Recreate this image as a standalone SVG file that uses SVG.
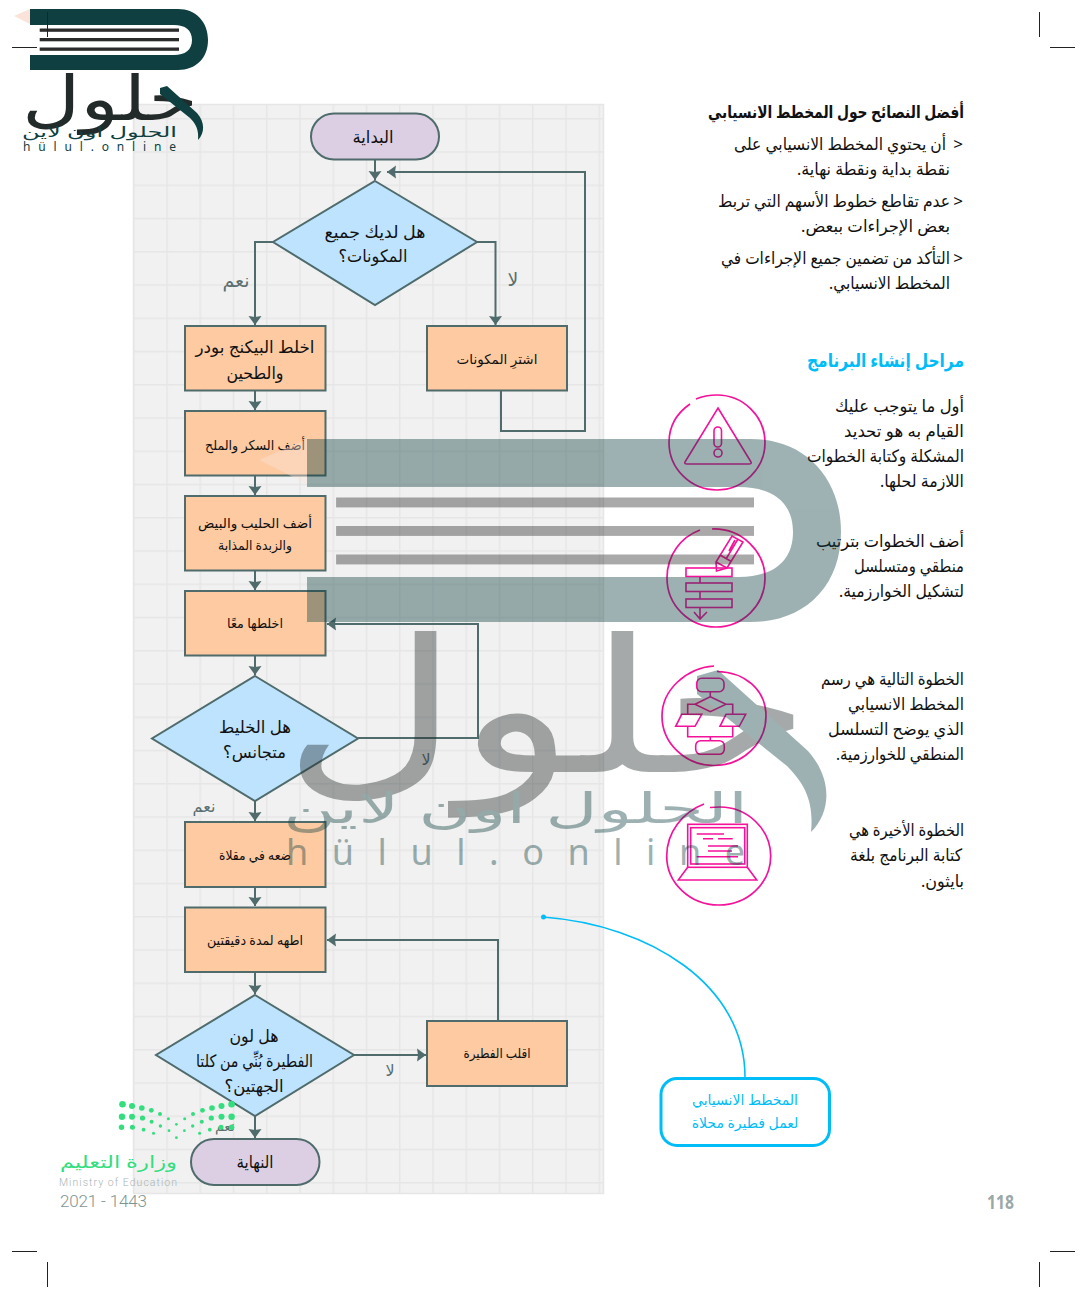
<svg xmlns="http://www.w3.org/2000/svg" width="1087" height="1299" viewBox="0 0 1087 1299">
<style>
text{font-family:"Noto Sans","DejaVu Sans",sans-serif;fill:#111}
.r{direction:rtl;text-anchor:start}
.c{direction:rtl;text-anchor:middle}
.body{font-size:17px}
.head{font-size:17px;font-weight:700}
.blue{fill:#00bdf7}
.lbl{font-size:19px;fill:#5a6f6f}
.box{fill:#fdcaa2;stroke:#4f6b6b;stroke-width:2}
.pill{fill:#dccfe3;stroke:#4f6b6b;stroke-width:2}
.dia{fill:#bde3ff;stroke:#4f6b6b;stroke-width:2}
.conn{fill:none;stroke:#4f6b6b;stroke-width:2}
.pk{fill:none;stroke:#f5129a;stroke-width:1.7}
.pk2{fill:none;stroke:#f5129a;stroke-width:1.6}
.crop{stroke:#222;stroke-width:1;fill:none}
.t17{font-size:17px}.t16{font-size:16px}.t14{font-size:14px}.t13{font-size:13.500px}
.dk{fill:#0f3f40}.ln{fill:#2b2b2b}.let{fill:#232b2a}
.gd{fill:#33de7e}
</style>
<defs>
<pattern id="grid" width="33.25" height="33.25" patternUnits="userSpaceOnUse" patternTransform="translate(133 118)">
<path d="M0 0H33.25M0 0V33.25" stroke="#e6e6e6" stroke-width="3" fill="none"/>
</pattern>
<marker id="ah" markerUnits="userSpaceOnUse" markerWidth="14" markerHeight="14" refX="9" refY="7" orient="auto"><path d="M0 .5L9 7L0 13.5L1 7Z" fill="#4f6b6b"/></marker>
</defs>
<rect id="panel" x="133.500" y="104.500" width="470" height="1089" fill="#f1f1f1"/>
<rect x="133.500" y="104.500" width="470" height="1089" fill="url(#grid)" stroke="#e6e6e6" stroke-width="1.500"/>

<g id="connectors">
<path class="conn" marker-end="url(#ah)" d="M375 160V180"/>
<path class="conn" marker-end="url(#ah)" d="M273 242H255V325"/>
<path class="conn" marker-end="url(#ah)" d="M477 242H495.500V325"/>
<path class="conn" marker-end="url(#ah)" d="M501 391V431H585V172H387"/>
<path class="conn" marker-end="url(#ah)" d="M255 391V410"/>
<path class="conn" marker-end="url(#ah)" d="M255 476V495"/>
<path class="conn" marker-end="url(#ah)" d="M255 571V590"/>
<path class="conn" marker-end="url(#ah)" d="M255 656V675"/>
<path class="conn" marker-end="url(#ah)" d="M358 738H478V624H327"/>
<path class="conn" marker-end="url(#ah)" d="M255 801V821"/>
<path class="conn" marker-end="url(#ah)" d="M255 887V906"/>
<path class="conn" marker-end="url(#ah)" d="M255 972V994"/>
<path class="conn" marker-end="url(#ah)" d="M354 1055H426"/>
<path class="conn" marker-end="url(#ah)" d="M498 1021V940H327"/>
<path class="conn" marker-end="url(#ah)" d="M255 1116V1138"/>
<path fill="none" stroke="#00bdf7" stroke-width="1.600" d="M543 917C650 925 745 985 745 1077"/>
<circle cx="543.500" cy="917" r="2.500" fill="#00bdf7"/>
</g>

<g id="n-start"><rect class="pill" x="311" y="113.500" width="128" height="46" rx="23"/><text class="c t17" x="373" y="143" textLength="41" lengthAdjust="spacingAndGlyphs">البداية</text></g>
<g id="n-d1"><path class="dia" d="M375 181L477 242L375 305L273 242Z"/><text class="c t17" x="375" y="238" textLength="101" lengthAdjust="spacingAndGlyphs">هل لديك جميع</text><text class="c t17" x="373" y="262" textLength="69" lengthAdjust="spacingAndGlyphs">المكونات؟</text></g>
<g id="n-mix1"><rect class="box" x="185" y="326" width="140.500" height="64.500"/><text class="c t17" x="255" y="353" textLength="119" lengthAdjust="spacingAndGlyphs">اخلط البيكنج بودر</text><text class="c t17" x="255" y="379" textLength="57" lengthAdjust="spacingAndGlyphs">والطحين</text></g>
<g id="n-buy"><rect class="box" x="427" y="326" width="140" height="64.500"/><text class="c t13" x="497" y="364">اشترِ المكونات</text></g>
<g id="n-sugar"><rect class="box" x="185" y="411" width="140.500" height="64.500"/><text class="c t13" x="255" y="450" textLength="100" lengthAdjust="spacingAndGlyphs">أضف السكر والملح</text></g>
<g id="n-milk"><rect class="box" x="185" y="496" width="140.500" height="74.500"/><text class="c t13" x="255" y="528" textLength="114" lengthAdjust="spacingAndGlyphs">أضف الحليب والبيض</text><text class="c t13" x="255" y="550" textLength="74" lengthAdjust="spacingAndGlyphs">والزبدة المذابة</text></g>
<g id="n-mix2"><rect class="box" x="185" y="591" width="140.500" height="64.500"/><text class="c t13" x="255" y="628" textLength="56" lengthAdjust="spacingAndGlyphs">اخلطها معًا</text></g>
<g id="n-d2"><path class="dia" d="M255 676L358 738.500L255 801L152 738.500Z"/><text class="c t17" x="255" y="733" textLength="72" lengthAdjust="spacingAndGlyphs">هل الخليط</text><text class="c t17" x="254.500" y="758" textLength="63" lengthAdjust="spacingAndGlyphs">متجانس؟</text></g>
<g id="n-fry"><rect class="box" x="185" y="822" width="140.500" height="65"/><text class="c t13" x="255" y="860" textLength="72" lengthAdjust="spacingAndGlyphs">ضعه في مقلاة</text></g>
<g id="n-cook"><rect class="box" x="185" y="907.500" width="140.500" height="64.500"/><text class="c t13" x="255" y="945" textLength="96" lengthAdjust="spacingAndGlyphs">اطهه لمدة دقيقتين</text></g>
<g id="n-d3"><path class="dia" d="M255 995L354 1055L255 1116L156 1055Z"/><text class="c t17" x="254" y="1042" textLength="49" lengthAdjust="spacingAndGlyphs">هل لون</text><text class="c t17" x="254.500" y="1067" textLength="117" lengthAdjust="spacingAndGlyphs">الفطيرة بُنِّي من كلتا</text><text class="c t17" x="254" y="1092" textLength="59" lengthAdjust="spacingAndGlyphs">الجهتين؟</text></g>
<g id="n-flip"><rect class="box" x="427" y="1021" width="140" height="65"/><text class="c t13" x="497" y="1058" textLength="67" lengthAdjust="spacingAndGlyphs">اقلب الفطيرة</text></g>
<g id="n-end"><rect class="pill" x="191" y="1139" width="128.500" height="46" rx="23"/><text class="c t17" x="255" y="1168" textLength="37" lengthAdjust="spacingAndGlyphs">النهاية</text></g>

<g id="labels">
<text class="c lbl" x="236" y="287">نعم</text>
<text class="c lbl" x="513" y="286">لا</text>
<text class="c lbl t16" x="426" y="765">لا</text>
<text class="c lbl t16" x="204" y="812">نعم</text>
<text class="c lbl t16" x="390" y="1076">لا</text>
<text class="c lbl t14" x="225" y="1131">نعم</text>
</g>

<g id="tips">
<text class="r head" x="964" y="118" textLength="256" lengthAdjust="spacingAndGlyphs">أفضل النصائح حول المخطط الانسيابي</text>
<text class="c body" x="958" y="150" style="direction:ltr">&gt;</text>
<text class="r body" x="946" y="150" textLength="212" lengthAdjust="spacingAndGlyphs">أن يحتوي المخطط الانسيابي على</text>
<text class="r body" x="950" y="175" textLength="153" lengthAdjust="spacingAndGlyphs">نقطة بداية ونقطة نهاية.</text>
<text class="c body" x="958" y="207" style="direction:ltr">&gt;</text>
<text class="r body" x="950" y="207" textLength="232" lengthAdjust="spacingAndGlyphs">عدم تقاطع خطوط الأسهم التي تربط</text>
<text class="r body" x="950" y="232" textLength="149" lengthAdjust="spacingAndGlyphs">بعض الإجراءات ببعض.</text>
<text class="c body" x="958" y="264" style="direction:ltr">&gt;</text>
<text class="r body" x="950" y="264" textLength="229" lengthAdjust="spacingAndGlyphs">التأكد من تضمين جميع الإجراءات في</text>
<text class="r body" x="950" y="289" textLength="121" lengthAdjust="spacingAndGlyphs">المخطط الانسيابي.</text>
<text class="r head blue" style="font-size:19px" x="964" y="367" textLength="157" lengthAdjust="spacingAndGlyphs">مراحل إنشاء البرنامج</text>
</g>
<g id="steps">
<text class="r body" x="964" y="412" textLength="129" lengthAdjust="spacingAndGlyphs">أول ما يتوجب عليك</text>
<text class="r body" x="964" y="437" textLength="120" lengthAdjust="spacingAndGlyphs">القيام به هو تحديد</text>
<text class="r body" x="964" y="462" textLength="157" lengthAdjust="spacingAndGlyphs">المشكلة وكتابة الخطوات</text>
<text class="r body" x="964" y="487" textLength="84" lengthAdjust="spacingAndGlyphs">اللازمة لحلها.</text>
<text class="r body" x="964" y="547" textLength="148" lengthAdjust="spacingAndGlyphs">أضف الخطوات بترتيب</text>
<text class="r body" x="964" y="572" textLength="110" lengthAdjust="spacingAndGlyphs">منطقي ومتسلسل</text>
<text class="r body" x="964" y="597" textLength="125" lengthAdjust="spacingAndGlyphs">لتشكيل الخوارزمية.</text>
<text class="r body" x="964" y="685" textLength="143" lengthAdjust="spacingAndGlyphs">الخطوة التالية هي رسم</text>
<text class="r body" x="964" y="710" textLength="116" lengthAdjust="spacingAndGlyphs">المخطط الانسيابي</text>
<text class="r body" x="964" y="735" textLength="136" lengthAdjust="spacingAndGlyphs">الذي يوضح التسلسل</text>
<text class="r body" x="964" y="760" textLength="128" lengthAdjust="spacingAndGlyphs">المنطقي للخوارزمية.</text>
<text class="r body" x="964" y="836" textLength="115" lengthAdjust="spacingAndGlyphs">الخطوة الأخيرة هي</text>
<text class="r body" x="962" y="861" textLength="112" lengthAdjust="spacingAndGlyphs">كتابة البرنامج بلغة</text>
<text class="r body" x="964" y="887" textLength="43" lengthAdjust="spacingAndGlyphs">بايثون.</text>
</g>

<g id="icon1">
<path class="pk" d="M696 399C703 396 710 395 717 395C743 395 765 416 765 442.500C765 469 743 490 717 490C691 490 669 469 669 442.500C669 426 677 413 690 404"/>
<path class="pk2" d="M718 408L751 462Q752 464 749 464H687Q684 464 685 462Z"/>
<rect class="pk2" x="714" y="427" width="7.500" height="20" rx="3.700"/><circle class="pk2" cx="718" cy="453" r="4"/>
</g>
<g id="icon2">
<path class="pk" d="M712 529C742 528 765 552 765 578C765 605 743 627 716 627C689 627 667 605 667 578C667 555 681 537 700 530"/>
<rect class="pk2" x="686" y="568" width="46" height="8.500"/><rect class="pk2" x="686" y="583" width="46" height="8.500"/><rect class="pk2" x="686" y="599" width="46" height="8.500"/>
<path class="pk2" d="M700 576.500V583M700 591.500V599M700 607.500V619M694 612L700 619L707 612"/>
<path class="pk2" d="M716.500 571L716 562L732 536L743 542L727 568ZM716 562L727 568M720 555L730.500 561M735 540L729 551M738 539L726 559"/>
</g>
<g id="icon3">
<path class="pk" d="M714 666C686 668 662 690 662 716C662 743 685 765.500 714 765.500C743 765.500 766 743 766 716C766 690 745 672 717 671.500"/>
<rect class="pk2" x="696.700" y="678.300" width="27.300" height="13.400" rx="5"/>
<rect class="pk2" x="695.700" y="740.700" width="28.600" height="13.600" rx="5"/>
<path class="pk2" d="M710.300 691.700V696.700L695 704.300L710.300 711.700L726 704.300L710.300 696.700M695 704.300H687.700V714.300M726 704.300H732.700V714.300M681.700 714.300H701.700L695 726.300H675.700ZM726 714.300H745.700L739.300 726.300H720ZM687.700 726.300V736.700H732.700V726.300M710.300 736.700V740.700"/>
</g>
<g id="icon4">
<path class="pk" d="M710 807.500C715 807 718 807 720 807C748 807 770.700 830 770.700 856C770.700 883 748 905 718.700 905C690 905 666.700 883 666.700 856C666.700 832 683 812 704 804"/>
<rect class="pk2" x="687.700" y="824.300" width="59.600" height="43"/><rect class="pk2" x="690.700" y="827.700" width="54" height="36.300"/>
<path class="pk2" d="M687.700 867.300L678.300 880H756.700L747.300 867.300M696.700 834H724M703 838.700H713M718 838.700H732.700M708 846H738M708 851H732M696.700 856.700H738"/>
</g>

<g id="callout">
<rect x="661" y="1078.500" width="168.500" height="67" rx="16" fill="#fff" stroke="#00bdf7" stroke-width="3"/>
<text class="c t14 blue" x="745" y="1105">المخطط الانسيابي</text>
<text class="c t14 blue" x="745" y="1128">لعمل فطيرة محلاة</text>
</g>

<g id="watermark" transform="translate(217 412) scale(3)" opacity=".4">
<path d="M14 16L30 9V24Z" fill="#fbe3da"/>
<path class="dk" d="M30 9H178C196 9 208 22 208 40C208 58 196 70 178 70H30V55H174C185 55 192 50 192 40C192 30 185 25 174 25H30Z"/>
<rect class="ln" x="39.700" y="28.500" width="139.300" height="3.300"/><rect class="ln" x="39.700" y="38" width="139.300" height="3.300"/><rect class="ln" x="39.700" y="47.500" width="139.300" height="3.300"/>
<text class="let" style="font-size:62px" x="22" y="120" textLength="176" lengthAdjust="spacingAndGlyphs">حلول</text>
<path class="dk" d="M160 88L167 86L197 113C205 122 205 133 198 140C199 130 196 124 190 118L160 94Z"/>
<text class="dk" style="font-size:14px" x="22" y="137" textLength="155" lengthAdjust="spacingAndGlyphs">الحلول اون لاين</text>
<text class="dk" style="font-size:12px" x="23" y="151" textLength="153" lengthAdjust="spacing">hülul.online</text>
</g>

<g id="logo">
<path d="M14 16L30 9V24Z" fill="#fbe3da"/>
<path class="dk" d="M30 9H178C196 9 208 22 208 40C208 58 196 70 178 70H30V55H174C185 55 192 50 192 40C192 30 185 25 174 25H30Z"/>
<rect class="ln" x="39.700" y="28.500" width="139.300" height="3.300"/><rect class="ln" x="39.700" y="38" width="139.300" height="3.300"/><rect class="ln" x="39.700" y="47.500" width="139.300" height="3.300"/>
<text class="let" style="font-size:62px" x="22" y="120" textLength="176" lengthAdjust="spacingAndGlyphs">حلول</text>
<path class="dk" d="M160 88L167 86L197 113C205 122 205 133 198 140C199 130 196 124 190 118L160 94Z"/>
<text class="dk" style="font-size:14px" x="22" y="137" textLength="155" lengthAdjust="spacingAndGlyphs">الحلول اون لاين</text>
<text class="dk" style="font-size:12px" x="23" y="151" textLength="153" lengthAdjust="spacing">hülul.online</text>
</g>

<g id="ministry">
<g class="gd">
<circle cx="122.500" cy="1104.300" r="3.300"/><circle cx="132" cy="1106" r="3"/><circle cx="141.800" cy="1108" r="2.800"/><circle cx="151.300" cy="1110.300" r="2.400"/><circle cx="160" cy="1114" r="2"/><circle cx="168.400" cy="1118.700" r="1.500"/>
<circle cx="231.600" cy="1104.300" r="3.300"/><circle cx="221.500" cy="1106" r="3"/><circle cx="212" cy="1108" r="2.800"/><circle cx="202.500" cy="1110.300" r="2.400"/><circle cx="193" cy="1114" r="2"/><circle cx="184.700" cy="1118.700" r="1.500"/>
<circle cx="122" cy="1116.700" r="3.200"/><circle cx="132" cy="1116.700" r="3"/><circle cx="142.500" cy="1118" r="2.600"/><circle cx="151.600" cy="1121.700" r="2"/><circle cx="160.400" cy="1126" r="1.700"/><circle cx="169" cy="1130.700" r="1.400"/>
<circle cx="231.600" cy="1116.700" r="3.200"/><circle cx="221.500" cy="1116.700" r="3"/><circle cx="211.300" cy="1118" r="2.600"/><circle cx="201.800" cy="1121.700" r="2"/><circle cx="192.700" cy="1126" r="1.700"/><circle cx="184.400" cy="1130.700" r="1.400"/><circle cx="176.400" cy="1124.300" r="1.400"/>
<circle cx="121.500" cy="1127.300" r="2.700"/><circle cx="132.400" cy="1127.300" r="2.500"/><circle cx="143.600" cy="1129.700" r="1.900"/><circle cx="153.500" cy="1133.300" r="1.500"/>
<circle cx="231.600" cy="1127.300" r="2.700"/><circle cx="221" cy="1127.300" r="2.500"/><circle cx="209.800" cy="1129.700" r="1.900"/><circle cx="199.600" cy="1133.300" r="1.500"/><circle cx="176.400" cy="1137.700" r="1.400"/>
</g>
<text style="font-size:17px;fill:#33de7e" x="60" y="1168" textLength="117" lengthAdjust="spacingAndGlyphs">وزارة التعليم</text>
<text style="font-size:10.500px;fill:#a9b5b5;font-family:Roboto,sans-serif;font-weight:300" x="59" y="1186" textLength="118" lengthAdjust="spacing">Ministry of Education</text>
<text style="font-size:17px;fill:#7f9595;font-family:Roboto,sans-serif;font-weight:300" x="60" y="1207" textLength="87" lengthAdjust="spacing">2021 - 1443</text>
</g>

<text id="page" style="font-size:20px;font-weight:700;fill:#9aa8a8;font-family:'Open Sans',sans-serif" x="987" y="1209" textLength="27" lengthAdjust="spacingAndGlyphs">118</text>

<path id="crops" class="crop" d="M12 47.500H37M47.500 12V37M1050 47.500H1075M1039.500 12V37M12 1251.500H37M47.500 1262V1287M1050 1251.500H1075M1039.500 1262V1287"/>
</svg>
